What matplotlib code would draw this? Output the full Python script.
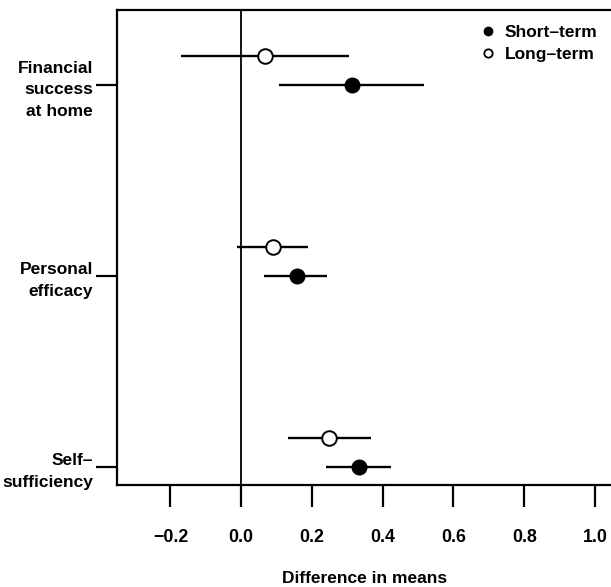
import matplotlib
matplotlib.use("Agg")
import matplotlib.pyplot as plt
import numpy as np
from matplotlib.lines import Line2D

categories = ["Financial\nsuccess\nat home", "Personal\nefficacy", "Self–\nsufficiency"]
short_mean = [0.312, 0.157, 0.334]
short_lo = [0.107, 0.064, 0.239]
short_hi = [0.517, 0.243, 0.422]
long_mean = [0.067, 0.090, 0.249]
long_lo = [-0.170, -0.011, 0.133]
long_hi = [0.305, 0.189, 0.366]
xticks = [-0.2, 0.0, 0.2, 0.4, 0.6, 0.8, 1.0]
xticklabels = ["−0.2", "0.0", "0.2", "0.4", "0.6", "0.8", "1.0"]

plt.rcParams['font.family'] = ['Liberation Sans', 'DejaVu Sans']
plt.rcParams['font.weight'] = 'bold'
FS = 12.5

W, H = 611, 587
fig = plt.figure(figsize=(W / 100, H / 100), dpi=100)
left, right, top, bottom = 116.7, 613.4, 10.0, 484.5
ax = fig.add_axes([left / W, 1 - bottom / H, (right - left) / W, (bottom - top) / H])

ypos = np.array([3, 2, 1], dtype=float)
off = 0.15

ax.axvline(0, color='black', lw=1.3, zorder=1)

ax.hlines(ypos + off, long_lo, long_hi, color='black', lw=1.7, zorder=2)
ax.plot(long_mean, ypos + off, 'o', ms=10.5, mfc='white', mec='black', mew=1.4, ls='none', zorder=3)
ax.hlines(ypos, short_lo, short_hi, color='black', lw=1.7, zorder=2)
ax.plot(short_mean, ypos, 'o', ms=10.5, mfc='black', mec='black', ls='none', zorder=3)

ax.set_xlim(-0.352, 1.052)
ax.set_ylim(0.908, 3.392)
ax.set_xticks(xticks)
ax.set_xticklabels(xticklabels, fontsize=FS + 0.3, fontweight='bold')
ax.set_yticks(ypos)
ax.set_yticklabels(categories, fontsize=FS, fontweight='bold', linespacing=1.55, multialignment='right')
ax.tick_params(axis='x', length=16, width=1.6, pad=16, direction='out')
ax.tick_params(axis='y', length=15, width=1.6, pad=2, direction='out')
for s in ax.spines.values():
    s.set_linewidth(1.6)
ax.set_xlabel("Difference in means", fontsize=FS, fontweight='bold', labelpad=18)

handles = [Line2D([], [], marker='o', ls='none', ms=6, mfc='black', mec='black'),
           Line2D([], [], marker='o', ls='none', ms=6, mfc='white', mec='black', mew=1.3)]
fig.legend(handles, ["Short–term", "Long–term"], loc='upper left',
           bbox_to_anchor=(479 / W, 1 - 25 / H), frameon=False,
           prop={'size': FS, 'weight': 'bold'},
           handlelength=1.0, handletextpad=0.5, borderpad=0, borderaxespad=0,
           labelspacing=0.37)

fig.savefig("out.png", dpi=100)
